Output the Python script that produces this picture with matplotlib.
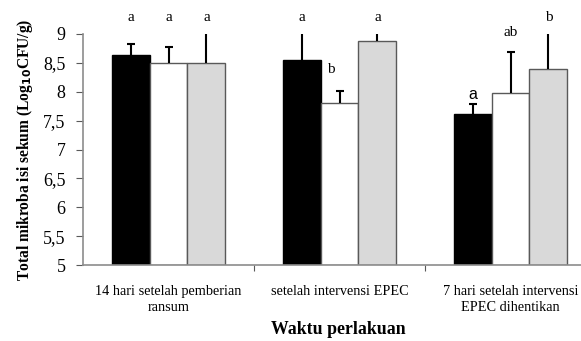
import matplotlib
matplotlib.use("Agg")
import matplotlib.pyplot as plt
import numpy as np

# ── Data ──────────────────────────────────────────────────────────────────────
groups = ["14 hari setelah pemberian\nransum",
          "setelah intervensi EPEC",
          "7 hari setelah intervensi\nEPEC dihentikan"]
black_vals = [8.63, 8.55, 7.61]
white_vals = [8.49, 7.80, 7.98]
gray_vals  = [8.49, 8.88, 8.39]
black_err  = [0.19, 0.60, 0.17]
white_err  = [0.29, 0.22, 0.70]
gray_err   = [0.60, 0.40, 0.70]
black_lbl  = ["a", "a", "a"]
white_lbl  = ["a", "b", "ab"]
gray_lbl   = ["a", "a", "b"]
yticks     = [5, 5.5, 6, 6.5, 7, 7.5, 8, 8.5, 9]
ytick_lbls = ["5", "5,5", "6", "6,5", "7", "7,5", "8", "8,5", "9"]

SERIF = "Liberation Serif"
EDGE = "#595959"

fig = plt.figure(figsize=(5.81, 3.41), dpi=100)
ax = fig.add_axes([83 / 581, 76 / 341, 513 / 581, 231 / 341])

x = np.arange(len(groups))
bw = 0.222
series = [
    (black_vals, black_err, "black", "black", -bw),
    (white_vals, white_err, "white", EDGE, 0.0),
    (gray_vals,  gray_err,  "#d9d9d9", EDGE, bw),
]
for vals, err, fc, ec, off in series:
    ax.bar(x + off, [v - 5 for v in vals], bw, bottom=5, color=fc,
           edgecolor=ec, linewidth=1.0, zorder=2)
    tops = np.array(vals) + np.array(err)
    # upper-only error bars, clipped at the top of the axes
    ax.vlines(x + off, vals, tops, color="black", lw=1.5, zorder=3)
    ax.plot(x + off, tops, ls="none", marker="_", ms=6, mew=1.5,
            color="black", zorder=3)

# significance letters
LBL = dict(ha="center", va="center", family=SERIF, fontsize=11)
for i in range(2):
    ax.text(x[i] - bw, 9.29, black_lbl[i], **LBL)
for i in range(3):
    ax.text(x[i] + bw, 9.29, gray_lbl[i], **LBL)
ax.text(x[0], 9.29, white_lbl[0], **LBL)
ax.text(x[1] - 0.05, 8.38, white_lbl[1], **LBL)
ax.text(x[2], 9.03, white_lbl[2], **LBL)
ax.text(x[2] - bw, 7.96, black_lbl[2], ha="center", va="center",
        family="Liberation Sans", fontsize=11.5)

ax.set_xlim(-0.5, 2.5)
ax.set_ylim(5, 9)
ax.set_yticks(yticks)
ax.set_yticklabels(ytick_lbls, family=SERIF, fontsize=13)
ax.set_xticks([0.5, 1.5])
ax.set_xticklabels(["", ""])
ax.tick_params(axis="y", length=5, color=EDGE, pad=7.5)
ax.tick_params(axis="x", length=4, color=EDGE)
for s in ["top", "right"]:
    ax.spines[s].set_visible(False)
for s in ["left", "bottom"]:
    ax.spines[s].set_color("#8c8c8c")
    ax.spines[s].set_linewidth(1.2)

for i, g in enumerate(groups):
    ax.text(x[i], 4.66, g, ha="center", va="top", family=SERIF,
            fontsize=10.3, linespacing=1.3)

ax.set_ylabel("Total mikroba isi sekum (Log$_{\\mathbf{10}}$CFU/g)",
              family=SERIF, fontsize=11.2, fontweight="bold", labelpad=6)
fig.text(338 / 581, 1 - 330 / 341, "Waktu perlakuan", ha="center",
         va="center", family=SERIF, fontsize=12.8, fontweight="bold")

fig.savefig("out.png", dpi=100)
